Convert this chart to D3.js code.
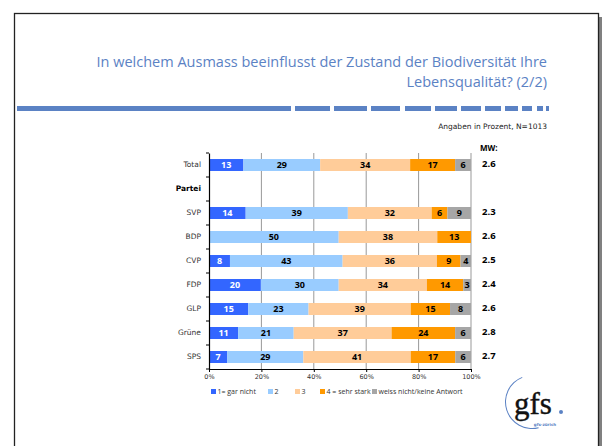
<!DOCTYPE html>
<html>
<head>
<meta charset="utf-8">
<script src="https://cdn.jsdelivr.net/npm/d3@7"></script>
<style>
  body { margin: 0; background: #fff; }
  svg { display: block; }
</style>
</head>
<body>
<svg id="chart" width="602" height="446"></svg>
<script>
// categories (row labels), "Partei" is a heading row with no bar
var rows = ["Total", "Partei", "SVP", "BDP", "CVP", "FDP", "GLP", "Grüne", "SPS"];
var seriesNames = ["1= gar nicht", "2", "3", "4 = sehr stark", "weiss nicht/keine Antwort"];
var colors = ["#3366ff", "#99ccff", "#ffcc99", "#ff9900", "#a6a6a6"];

var gar_nicht = { Total: 13, SVP: 14, BDP: 0, CVP: 8, FDP: 20, GLP: 15, "Grüne": 11, SPS: 7 };
var zwei      = { Total: 29, SVP: 39, BDP: 50, CVP: 43, FDP: 30, GLP: 23, "Grüne": 21, SPS: 29 };
var drei      = { Total: 34, SVP: 32, BDP: 38, CVP: 36, FDP: 34, GLP: 39, "Grüne": 37, SPS: 41 };
var sehr_stark= { Total: 17, SVP: 6, BDP: 13, CVP: 9, FDP: 14, GLP: 15, "Grüne": 24, SPS: 17 };
var weiss     = { Total: 6, SVP: 9, BDP: 0, CVP: 4, FDP: 3, GLP: 8, "Grüne": 6, SPS: 6 };
var mw        = { Total: "2.6", SVP: "2.3", BDP: "2.6", CVP: "2.5", FDP: "2.4", GLP: "2.6", "Grüne": "2.8", SPS: "2.7" };
var ticks = [0, 20, 40, 60, 80, 100];

var series = [gar_nicht, zwei, drei, sehr_stark, weiss];

var svg = d3.select("#chart");

// frame + shadow
svg.append("rect").attr("x", 599).attr("y", 17).attr("width", 3).attr("height", 429).attr("fill", "#808080");
svg.append("rect").attr("x", 14.5).attr("y", 13.5).attr("width", 584).attr("height", 440)
    .attr("fill", "none").attr("stroke", "#222").attr("stroke-width", 1.3);

// title
var title = svg.append("text")
    .attr("text-anchor", "end")
    .style("font-family", "'Open Sans', sans-serif")
    .style("font-size", "14.5px")
    .attr("fill", "#5b82c4");
title.append("tspan").attr("x", 547).attr("y", 67).text("In welchem Ausmass beeinflusst der Zustand der Biodiversität Ihre");
title.append("tspan").attr("x", 547).attr("y", 87).text("Lebensqualität? (2/2)");

// blue rule: solid then shrinking dashes
var rule = [[17, 291], [295, 330], [334, 367], [371, 400], [405, 431], [435, 457], [461, 481], [485, 501], [505, 518], [522, 532], [537, 543], [546, 549]];
svg.selectAll(".rule").data(rule).enter().append("rect")
    .attr("x", function (d) { return d[0]; })
    .attr("y", 106)
    .attr("width", function (d) { return d[1] - d[0]; })
    .attr("height", 5)
    .attr("fill", "#5b82c4");

svg.append("text")
    .attr("x", 547).attr("y", 129)
    .attr("text-anchor", "end")
    .style("font-family", "'DejaVu Sans', sans-serif")
    .style("font-size", "7.5px")
    .attr("fill", "#222")
    .text("Angaben in Prozent, N=1013");

// scales
var x = d3.scaleLinear().domain([0, 100]).range([209, 471]);
var y = d3.scaleBand().domain(rows).range([153, 369]);
var barH = 12;

// gridlines
svg.selectAll(".grid").data(ticks.slice(1)).enter().append("line")
    .attr("x1", function (d) { return x(d); })
    .attr("x2", function (d) { return x(d); })
    .attr("y1", 153).attr("y2", 369)
    .attr("stroke", "#999").attr("stroke-width", 1);

// stacked bars (normalised to 100)
var barRows = rows.filter(function (r) { return r !== "Partei"; });
barRows.forEach(function (r) {
    var tot = d3.sum(series, function (s) { return s[r]; });
    var acc = 0;
    series.forEach(function (s, i) {
        var v = s[r];
        if (!v) return;
        var x0 = x(acc / tot * 100), x1 = x((acc + v) / tot * 100);
        acc += v;
        svg.append("rect")
            .attr("x", x0).attr("y", y(r) + (y.bandwidth() - barH) / 2)
            .attr("width", x1 - x0).attr("height", barH)
            .attr("fill", colors[i]);
        svg.append("text")
            .attr("x", (x0 + x1) / 2)
            .attr("y", y(r) + y.bandwidth() / 2 + 3)
            .attr("text-anchor", "middle")
            .style("font-family", "'Open Sans', sans-serif")
            .style("font-size", "9px")
            .style("font-weight", "bold")
            .attr("fill", i === 0 ? "#fff" : "#000")
            .text(v);
    });
    svg.append("text")
        .attr("x", 482)
        .attr("y", y(r) + y.bandwidth() / 2 + 2)
        .style("font-family", "'Open Sans', sans-serif")
        .style("font-size", "9.5px")
        .style("font-weight", "bold")
        .attr("fill", "#000")
        .text(mw[r]);
});

svg.append("text")
    .attr("x", 480).attr("y", 151)
    .style("font-family", "'Open Sans', sans-serif")
    .style("font-size", "8px")
    .style("font-weight", "bold")
    .text("MW:");

// y axis
var yAxis = svg.append("g").attr("transform", "translate(209,0)")
    .call(d3.axisLeft(y).tickSize(0).tickPadding(8));
yAxis.select(".domain").attr("stroke", "#000").attr("stroke-width", 1.2);
yAxis.selectAll("text")
    .style("font-family", "'DejaVu Sans', sans-serif")
    .style("font-size", "7.5px")
    .attr("fill", function (d) { return d === "Partei" ? "#000" : "#333"; })
    .style("font-weight", function (d) { return d === "Partei" ? "bold" : "normal"; });
// band boundary ticks
svg.selectAll(".ytick").data(d3.range(rows.length + 1)).enter().append("line")
    .attr("x1", 206).attr("x2", 209)
    .attr("y1", function (i) { return 153 + i * y.step(); })
    .attr("y2", function (i) { return 153 + i * y.step(); })
    .attr("stroke", "#000");

// x axis
var xAxis = svg.append("g").attr("transform", "translate(0,369)")
    .call(d3.axisBottom(x).tickValues(ticks).tickSize(3).tickPadding(2)
        .tickFormat(function (d) { return d + "%"; }));
xAxis.select(".domain").attr("stroke", "#000");
xAxis.selectAll("text")
    .style("font-family", "'DejaVu Sans', sans-serif")
    .style("font-size", "6.5px")
    .attr("fill", "#333");

// legend
var legX = [211, 268, 295, 320, 372];
var leg = svg.selectAll(".leg").data(seriesNames).enter().append("g")
    .attr("transform", function (d, i) { return "translate(" + legX[i] + ",389)"; });
leg.append("rect").attr("width", 5).attr("height", 5).attr("fill", function (d, i) { return colors[i]; });
leg.append("text").attr("x", 6.5).attr("y", 5)
    .style("font-family", "'Open Sans', sans-serif")
    .style("font-size", "7px")
    .attr("fill", "#333")
    .text(function (d) { return d; });

// gfs logo
var logo = svg.append("g");
logo.append("path")
    .attr("d", d3.arc()({ innerRadius: 26, outerRadius: 27, startAngle: Math.PI * 0.92, endAngle: Math.PI * 1.88 }))
    .attr("transform", "translate(532,402)")
    .attr("fill", "#5b82c4");
logo.append("text").attr("x", 514).attr("y", 414)
    .style("font-family", "'Liberation Serif', serif")
    .style("font-size", "31px")
    .attr("fill", "#111")
    .attr("stroke", "#111").attr("stroke-width", 0.4)
    .text("gfs");
logo.append("circle").attr("cx", 561).attr("cy", 412).attr("r", 2).attr("fill", "#5b82c4");
logo.append("text").attr("x", 545).attr("y", 426)
    .attr("text-anchor", "middle")
    .style("font-family", "'DejaVu Sans', sans-serif")
    .style("font-size", "4px")
    .style("font-weight", "bold")
    .attr("fill", "#5b82c4")
    .text("gfs-zürich");
</script>
</body>
</html>
